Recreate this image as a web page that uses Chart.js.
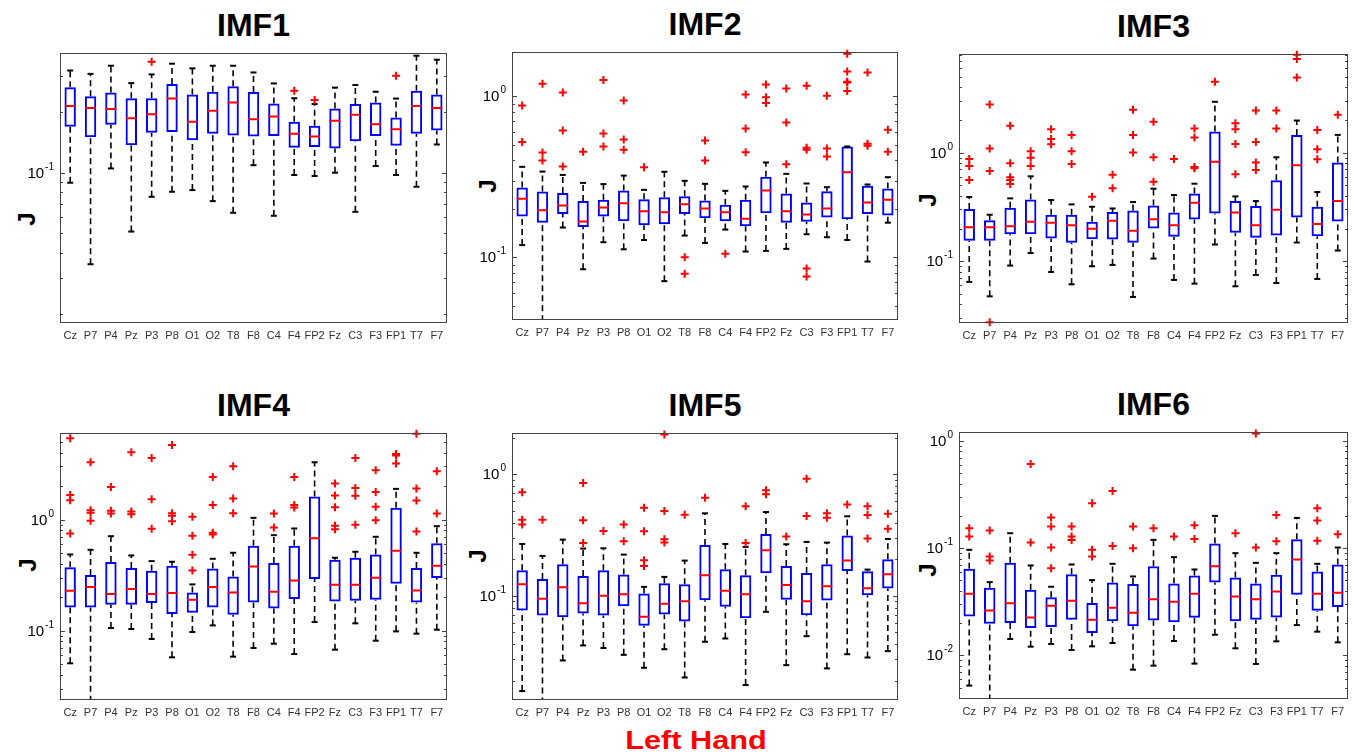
<!DOCTYPE html>
<html>
<head>
<meta charset="utf-8">
<script src="https://cdn.jsdelivr.net/npm/chart.js@4/dist/chart.umd.min.js"></script>
<style>
    body { margin: 0; background: #fff; width: 1355px; height: 755px; position: relative; overflow: hidden;
           font-family: "Liberation Sans", Arial, sans-serif; }
    canvas { position: absolute; }
    .title { position: absolute; font-weight: bold; font-size: 32px; line-height: 32px; text-align: center; color: #000; }
    .ylab { position: absolute; width: 20px; height: 24px; margin-left: -10px; margin-top: -12px; font-weight: bold;
            font-size: 24px; line-height: 24px; text-align: center; transform: rotate(-90deg); }
    #hand { position: absolute; left: 546px; top: 727px; width: 300px; text-align: center; color: #ff0000;
            font-weight: bold; font-size: 26px; line-height: 26px; transform: scaleX(1.18); }
</style>
</head>
<body>
<div id="hand">Left Hand</div>
<script>
"use strict";

const channels = ['Cz', 'P7', 'P4', 'Pz', 'P3', 'P8', 'O1', 'O2', 'T8', 'F8', 'C4', 'F4', 'FP2', 'Fz', 'C3', 'F3', 'FP1', 'T7', 'F7'];
const titles = ['IMF1', 'IMF2', 'IMF3', 'IMF4', 'IMF5', 'IMF6'];
const yLimits = [[0.018, 0.392], [0.0407, 1.89], [0.027, 8.09], [0.0238, 6.0], [0.0139, 2.19], [0.00393, 1.21]];

// IMF1
const imf1Max = [0.321, 0.309, 0.339, 0.278, 0.307, 0.347, 0.329, 0.339, 0.339, 0.314, 0.277, 0.234, 0.219, 0.264, 0.272, 0.252, 0.233, 0.380, 0.363];
const imf1Q3  = [0.265, 0.239, 0.250, 0.234, 0.234, 0.275, 0.244, 0.252, 0.268, 0.251, 0.220, 0.179, 0.171, 0.208, 0.219, 0.223, 0.188, 0.255, 0.244];
const imf1Med = [0.214, 0.209, 0.207, 0.186, 0.195, 0.233, 0.179, 0.203, 0.223, 0.184, 0.190, 0.156, 0.151, 0.181, 0.194, 0.174, 0.164, 0.214, 0.209];
const imf1Q1  = [0.169, 0.150, 0.173, 0.137, 0.158, 0.159, 0.145, 0.156, 0.153, 0.151, 0.152, 0.133, 0.134, 0.132, 0.143, 0.152, 0.136, 0.156, 0.162];
const imf1Min = [0.0892, 0.0352, 0.105, 0.0511, 0.076, 0.0805, 0.082, 0.0723, 0.0633, 0.109, 0.0612, 0.0974, 0.0963, 0.100, 0.064, 0.108, 0.0974, 0.0852, 0.138];
const imf1Out = [[], [], [], [], [0.355], [], [], [], [], [], [], [0.255], [0.229], [], [], [], [0.302], [], []];

// IMF2
const imf2Max = [0.365, 0.341, 0.325, 0.290, 0.285, 0.322, 0.2625, 0.340, 0.2986, 0.286, 0.2588, 0.2753, 0.3885, 0.330, 0.2874, 0.2727, 0.4885, 0.2834, 0.3147];
const imf2Q3  = [0.271, 0.256, 0.251, 0.224, 0.2275, 0.260, 0.2296, 0.236, 0.2397, 0.2253, 0.2117, 0.2275, 0.3162, 0.249, 0.2188, 0.2575, 0.4885, 0.278, 0.2676];
const imf2Med = [0.231, 0.196, 0.210, 0.167, 0.204, 0.217, 0.1933, 0.1906, 0.2137, 0.2009, 0.1906, 0.1733, 0.260, 0.1933, 0.1843, 0.2009, 0.338, 0.2188, 0.2275];
const imf2Q1  = [0.179, 0.164, 0.186, 0.154, 0.179, 0.1675, 0.158, 0.1605, 0.186, 0.175, 0.1675, 0.156, 0.188, 0.164, 0.166, 0.1766, 0.1723, 0.186, 0.1817];
const imf2Min = [0.119, 0.040, 0.153, 0.0842, 0.124, 0.112, 0.128, 0.071, 0.1364, 0.1228, 0.1486, 0.1085, 0.1095, 0.1127, 0.139, 0.1332, 0.128, 0.094, 0.164];
const imf2Out = [[0.879, 0.52], [1.199, 0.448, 0.399], [1.059, 0.614, 0.367], [0.4525], [1.264, 0.589, 0.4885], [0.944, 0.540, 0.466],
    [0.363], [], [0.1, 0.0788], [0.532, 0.399], [0.105], [1.029, 0.632, 0.450], [1.188, 0.99, 0.909], [1.121, 0.689, 0.379],
    [1.165, 0.479, 0.4656, 0.085, 0.0758], [1.01, 0.4746, 0.4232], [1.843, 1.431, 1.234, 1.222, 1.08], [1.41, 0.5075, 0.493], [0.62, 0.4525]];

// IMF3
const imf3Max = [0.390, 0.268, 0.379, 0.605, 0.366, 0.3335, 0.3175, 0.306, 0.3506, 0.4655, 0.4066, 0.5174, 2.937, 0.3953, 0.358, 0.906, 1.974, 0.4335, 1.456];
const imf3Q3  = [0.302, 0.239, 0.311, 0.371, 0.268, 0.268, 0.2307, 0.2834, 0.2937, 0.3266, 0.2813, 0.421, 1.563, 0.358, 0.322, 0.5553, 1.456, 0.3175, 0.809];
const imf3Med = [0.206, 0.206, 0.210, 0.231, 0.226, 0.215, 0.1988, 0.2357, 0.1905, 0.244, 0.215, 0.3455, 0.826, 0.2813, 0.215, 0.2977, 0.764, 0.2197, 0.358];
const imf3Q1  = [0.154, 0.154, 0.1775, 0.1775, 0.162, 0.1476, 0.1596, 0.1585, 0.1476, 0.2003, 0.1677, 0.2425, 0.2754, 0.1827, 0.1642, 0.1726, 0.253, 0.1702, 0.2323];
const imf3Min = [0.0645, 0.0475, 0.0912, 0.119, 0.0797, 0.0613, 0.0899, 0.0925, 0.0469, 0.1058, 0.0673, 0.0622, 0.1426, 0.0588, 0.0748, 0.0631, 0.1487, 0.0687, 0.1255];
const imf3Out = [[0.874, 0.753, 0.5595], [2.773, 1.089, 0.677, 0.0275], [1.763, 0.797, 0.592, 0.5595, 0.514], [1.029, 0.899, 0.753],
    [1.642, 1.337, 1.194], [1.456, 1.029, 0.786], [0.3925], [0.6265, 0.469], [2.477, 1.456, 1.0], [1.919, 0.906, 0.54], [0.874],
    [1.665, 1.375, 0.738, 0.717], [4.49], [1.865, 1.642, 1.202, 0.631], [2.442, 1.254, 0.809, 0.692], [2.442, 1.665],
    [7.97, 7.27, 4.92], [1.619, 1.073, 0.868], [2.227]];

// IMF4
const imf4Max = [0.485, 0.534, 0.708, 0.475, 0.4225, 0.417, 0.2608, 0.4433, 0.502, 1.035, 0.723, 0.83, 3.273, 0.4527, 0.5125, 0.699, 1.886, 0.502, 0.871];
const imf4Q3  = [0.373, 0.3162, 0.414, 0.3655, 0.346, 0.3836, 0.221, 0.363, 0.3077, 0.58, 0.4054, 0.58, 1.609, 0.4343, 0.4527, 0.485, 1.273, 0.3655, 0.6128];
const imf4Med = [0.2287, 0.2468, 0.2135, 0.2367, 0.2135, 0.218, 0.19, 0.2468, 0.221, 0.378, 0.224, 0.283, 0.68, 0.2589, 0.2589, 0.2993, 0.523, 0.2303, 0.3836];
const imf4Q1  = [0.162, 0.162, 0.1713, 0.1713, 0.1772, 0.141, 0.145, 0.162, 0.1393, 0.1797, 0.1587, 0.1925, 0.291, 0.1834, 0.186, 0.19, 0.2644, 0.1797, 0.2972];
const imf4Min = [0.0509, 0.023, 0.1057, 0.1035, 0.0842, 0.0576, 0.0973, 0.1116, 0.0584, 0.0699, 0.0764, 0.0617, 0.1196, 0.0675, 0.1164, 0.0813, 0.0986, 0.094, 0.102];
const imf4Out = [[5.377, 1.665, 1.492, 0.7484], [3.273, 1.213, 1.148, 0.973], [1.965, 1.196, 1.132], [4.025, 1.18, 1.117],
    [3.58, 1.522, 0.8245], [4.686, 1.14, 1.079, 0.966], [1.057, 0.7135, 0.4817, 0.348], [2.417, 1.354, 0.759, 0.733],
    [3.013, 1.544, 1.14], [], [1.132, 0.8475], [2.417, 1.354, 1.282], [], [2.105, 1.643, 1.291, 0.877, 0.819],
    [3.58, 1.925, 1.632, 0.8957], [2.773, 1.772, 1.3, 0.986], [3.89, 3.757, 3.184], [5.92, 1.898, 1.481, 0.78], [2.717, 1.132]];

// IMF5
const imf5Max = [0.2676, 0.2132, 0.2904, 0.245, 0.2465, 0.2186, 0.1186, 0.1433, 0.1952, 0.478, 0.2676, 0.2529, 0.49, 0.266, 0.278, 0.2744, 0.4516, 0.1646, 0.294];
const imf5Q3  = [0.1626, 0.138, 0.182, 0.146, 0.1626, 0.1497, 0.1045, 0.1271, 0.1247, 0.2626, 0.1656, 0.1479, 0.3233, 0.1764, 0.1546, 0.182, 0.3133, 0.1595, 0.2001];
const imf5Med = [0.1247, 0.0945, 0.1178, 0.0871, 0.1, 0.1032, 0.0672, 0.086, 0.0904, 0.1479, 0.11, 0.1032, 0.2373, 0.1231, 0.0904, 0.1201, 0.1952, 0.1156, 0.1508];
const imf5Q1  = [0.0758, 0.0689, 0.0668, 0.0716, 0.0689, 0.0822, 0.0567, 0.0703, 0.0615, 0.0921, 0.0813, 0.0655, 0.1536, 0.0927, 0.0694, 0.0916, 0.1605, 0.1013, 0.1149];
const imf5Min = [0.01646, 0.013, 0.0294, 0.0391, 0.0372, 0.0327, 0.0256, 0.0364, 0.0213, 0.0419, 0.0446, 0.01845, 0.0739, 0.0269, 0.0466, 0.0253, 0.0331, 0.0311, 0.0351];
const imf5Out = [[0.711, 0.424, 0.386], [0.424], [], [0.849, 0.4188, 0.2727], [0.342], [0.386, 0.2813], [0.532, 0.34, 0.1965, 0.1764],
    [2.132, 0.4996, 0.2923, 0.2744], [0.466], [0.643], [], [0.546, 0.2727], [0.739, 0.685], [0.3074], [0.921, 0.4546],
    [0.478, 0.4405], [0.5636], [0.546, 0.463, 0.296], [0.4749, 0.3576]];

// IMF6
const imf6Max = [0.0965, 0.0483, 0.1379, 0.069, 0.0437, 0.0705, 0.0504, 0.0715, 0.0545, 0.1195, 0.0825, 0.0633, 0.2, 0.0899, 0.073, 0.0899, 0.1914, 0.0715, 0.1014];
const imf6Q3  = [0.0642, 0.0428, 0.073, 0.041, 0.0348, 0.0573, 0.0308, 0.0479, 0.0463, 0.068, 0.0469, 0.0557, 0.1105, 0.0534, 0.0469, 0.0565, 0.1213, 0.0607, 0.0705];
const imf6Med = [0.0376, 0.0263, 0.0306, 0.02265, 0.0291, 0.0324, 0.02154, 0.0279, 0.025, 0.0335, 0.0317, 0.0376, 0.068, 0.0355, 0.0335, 0.0395, 0.0785, 0.0376, 0.0384];
const imf6Q1  = [0.0231, 0.0198, 0.0201, 0.018, 0.0184, 0.02154, 0.0162, 0.0209, 0.01868, 0.0212, 0.02035, 0.0225, 0.0479, 0.0209, 0.02154, 0.02265, 0.0368, 0.0261, 0.0283];
const imf6Min = [0.00524, 0.0038, 0.01424, 0.01208, 0.0128, 0.01125, 0.01217, 0.01307, 0.00738, 0.00804, 0.01364, 0.0084, 0.0156, 0.01166, 0.00834, 0.01355, 0.0192, 0.01667, 0.01326];
const imf6Out = [[0.1535, 0.1284], [0.146, 0.0837, 0.0768], [], [0.609, 0.1129], [0.193, 0.159, 0.1014, 0.0651], [0.159, 0.1284, 0.1195],
    [0.2622, 0.0965, 0.0837], [0.3414, 0.105], [0.159, 0.1], [0.1535], [0.1284], [0.1637, 0.1221], [], [0.1379], [1.17, 0.1014],
    [0.204, 0.1161], [], [0.2355, 0.181, 0.117], [0.135]];

const stats = [
    [imf1Max, imf1Q3, imf1Med, imf1Q1, imf1Min, imf1Out],
    [imf2Max, imf2Q3, imf2Med, imf2Q1, imf2Min, imf2Out],
    [imf3Max, imf3Q3, imf3Med, imf3Q1, imf3Min, imf3Out],
    [imf4Max, imf4Q3, imf4Med, imf4Q1, imf4Min, imf4Out],
    [imf5Max, imf5Q3, imf5Med, imf5Q1, imf5Min, imf5Out],
    [imf6Max, imf6Q3, imf6Med, imf6Q1, imf6Min, imf6Out],
];

// plot rectangles on the page (left, top, right, bottom) and ylabel centres
const frames = [
    {l: 60, t: 53, r: 447, b: 323, jx: 27, jy: 219},
    {l: 512, t: 52, r: 898, b: 320, jx: 488, jy: 186},
    {l: 959, t: 54, r: 1348, b: 323, jx: 928, jy: 200},
    {l: 60, t: 433, r: 447, b: 700, jx: 28, jy: 565},
    {l: 512, t: 433, r: 898, b: 700, jx: 478, jy: 556},
    {l: 959, t: 432, r: 1348, b: 699, jx: 928, jy: 570},
];
const PAD_L = 50, PAD_T = 10, PAD_R = 10, PAD_B = 24;
const FONT = '"Liberation Sans", Arial, sans-serif';

function isPow10(v) {
    let e = Math.log10(v);
    return Math.abs(e - Math.round(e)) < 1e-9;
}

function logTicks(scale) {
    let ticks = [];
    for (let e = Math.floor(Math.log10(scale.min)); e <= Math.ceil(Math.log10(scale.max)); e++) {
        for (let m = 1; m < 10; m++) {
            let v = parseFloat((m * Math.pow(10, e)).toPrecision(6));
            if (v >= scale.min && v <= scale.max) ticks.push({value: v});
        }
    }
    scale.ticks = ticks;
}

// box frame, inward MATLAB-like tick marks and 10^n labels
const framePlugin = {
    id: 'frame',
    afterDraw(chart) {
        const {ctx, chartArea: a} = chart;
        const y = chart.scales.y;
        ctx.save();
        ctx.strokeStyle = '#444';
        ctx.lineWidth = 1;
        ctx.strokeRect(a.left + 0.5, a.top + 0.5, a.right - a.left - 1, a.bottom - a.top - 1);
        ctx.beginPath();
        y.ticks.forEach(t => {
            let py = Math.round(y.getPixelForValue(t.value)) + 0.5;
            let len = isPow10(t.value) ? 5 : 3;
            ctx.moveTo(a.left, py); ctx.lineTo(a.left + len, py);
            ctx.moveTo(a.right, py); ctx.lineTo(a.right - len, py);
        });
        ctx.stroke();

        ctx.fillStyle = '#000';
        ctx.textAlign = 'right';
        ctx.textBaseline = 'alphabetic';
        y.ticks.filter(t => isPow10(t.value)).forEach(t => {
            let py = y.getPixelForValue(t.value);
            let exp = String(Math.round(Math.log10(t.value)));
            ctx.font = '10px ' + FONT;
            let ew = ctx.measureText(exp).width;
            ctx.fillText(exp, a.left - 6, py - 3);
            ctx.font = '15px ' + FONT;
            ctx.fillText('10', a.left - 7 - ew, py + 5);
        });
        ctx.restore();
    }
};

function makePanel(idx) {
    const f = frames[idx];
    const [mx, q3, med, q1, mn, out] = stats[idx];

    let title = document.createElement('div');
    title.className = 'title';
    title.textContent = titles[idx];
    Object.assign(title.style, {left: f.l + 'px', width: (f.r - f.l) + 'px', top: (f.t - 44) + 'px'});
    document.body.appendChild(title);

    let jl = document.createElement('div');
    jl.className = 'ylab';
    jl.textContent = 'J';
    Object.assign(jl.style, {left: f.jx + 'px', top: f.jy + 'px'});
    document.body.appendChild(jl);

    let canvas = document.createElement('canvas');
    let W = f.r - f.l + PAD_L + PAD_R, H = f.b - f.t + PAD_T + PAD_B;
    canvas.width = W; canvas.height = H;
    Object.assign(canvas.style, {left: (f.l - PAD_L) + 'px', top: (f.t - PAD_T) + 'px', width: W + 'px', height: H + 'px'});
    document.body.appendChild(canvas);

    let whiskers = [], caps = [], outliers = [];
    channels.forEach((c, i) => {
        whiskers.push({x: c, y: q3[i]}, {x: c, y: mx[i]}, {x: c, y: null},
                      {x: c, y: mn[i]}, {x: c, y: q1[i]}, {x: c, y: null});
        caps.push({x: c, y: mx[i]}, {x: c, y: mn[i]});
        out[i].forEach(v => outliers.push({x: c, y: v}));
    });

    new Chart(canvas, {
        type: 'bar',
        data: {
            labels: channels,
            datasets: [
                {
                    type: 'line', data: outliers, showLine: false, clip: false,
                    pointStyle: 'cross', pointRadius: 4, pointBorderWidth: 2,
                    pointBorderColor: '#ff0000', pointBackgroundColor: '#ff0000',
                },
                {
                    type: 'line', data: med, showLine: false,
                    pointStyle: 'line', pointRadius: 5.4, pointBorderWidth: 2, pointBorderColor: '#ff0000',
                },
                {
                    type: 'line', data: caps, showLine: false,
                    pointStyle: 'line', pointRadius: 3, pointBorderWidth: 2, pointBorderColor: '#000',
                },
                {
                    type: 'bar', data: q1.map((v, i) => [v, q3[i]]),
                    backgroundColor: 'rgba(255,255,255,0)', borderColor: '#0000ff', borderWidth: 2,
                    borderSkipped: false, barPercentage: 0.56, categoryPercentage: 1.0,
                },
                {
                    type: 'line', data: whiskers, spanGaps: false, pointRadius: 0,
                    borderColor: '#000', borderWidth: 1.6, borderDash: [6, 4],
                },
            ]
        },
        options: {
            responsive: false,
            devicePixelRatio: 1,
            animation: false,
            events: [],
            layout: {padding: {left: 0, top: PAD_T, right: PAD_R, bottom: 0}},
            plugins: {legend: {display: false}, tooltip: {enabled: false}},
            scales: {
                x: {
                    grid: {display: false, drawTicks: false}, border: {display: false},
                    ticks: {autoSkip: false, maxRotation: 0, minRotation: 0, padding: 6, color: '#333',
                            font: {family: FONT, size: 11}},
                    afterFit: s => { s.height = PAD_B; },
                },
                y: {
                    type: 'logarithmic', min: yLimits[idx][0], max: yLimits[idx][1],
                    grid: {display: false, drawTicks: false}, border: {display: false},
                    afterBuildTicks: logTicks,
                    ticks: {display: false, autoSkip: false},
                    afterFit: s => { s.width = PAD_L; },
                },
            },
        },
        plugins: [framePlugin],
    });
}

for (let i = 0; i < 6; i++) makePanel(i);
</script>
</body>
</html>
